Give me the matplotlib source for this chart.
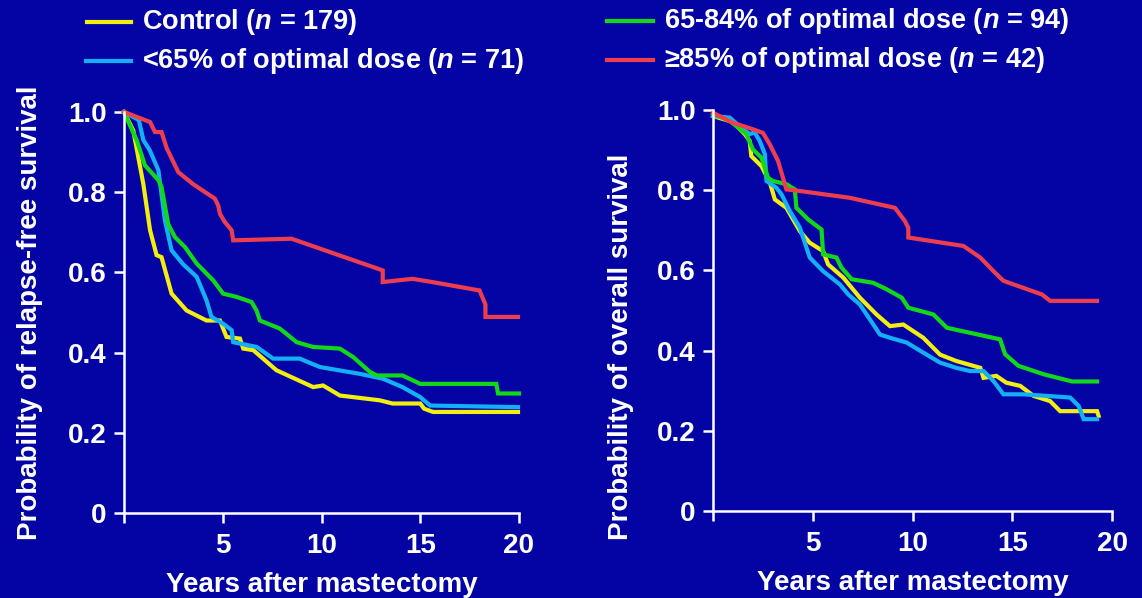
import matplotlib
matplotlib.use('Agg')
import matplotlib.pyplot as plt
from matplotlib.lines import Line2D

# data (years, probability)
rfs_control_x = [0, 0.47, 0.98, 1.32, 1.65, 1.9, 2.41, 3.17, 4.18, 4.86, 5.19, 5.87, 6.04, 6.55, 7.72, 9.58, 10.08, 10.93, 12.95, 13.6, 15.0, 15.2, 15.65, 19.95]
rfs_control_y = [1.0, 0.954, 0.82, 0.705, 0.643, 0.638, 0.547, 0.505, 0.48, 0.48, 0.439, 0.435, 0.41, 0.406, 0.356, 0.314, 0.318, 0.293, 0.281, 0.273, 0.273, 0.26, 0.252, 0.252]
rfs_low_x = [0, 0.75, 0.98, 1.3, 1.74, 2.07, 2.41, 3.0, 3.68, 4.18, 4.43, 5.02, 5.45, 5.53, 6.72, 7.55, 8.9, 9.92, 11.94, 13.1, 14.1, 15.0, 15.5, 19.95]
rfs_low_y = [1.0, 0.98, 0.93, 0.905, 0.855, 0.73, 0.655, 0.62, 0.589, 0.53, 0.489, 0.472, 0.456, 0.426, 0.414, 0.385, 0.385, 0.364, 0.347, 0.335, 0.314, 0.289, 0.268, 0.264]
rfs_mid_x = [0, 0.64, 1.06, 1.74, 1.9, 2.24, 2.58, 3.09, 3.68, 4.52, 5.02, 5.7, 6.46, 6.71, 6.88, 7.89, 8.74, 9.58, 10.93, 11.6, 12.45, 12.8, 14.1, 15.0, 18.85, 18.94, 20.0]
rfs_mid_y = [1.0, 0.93, 0.867, 0.83, 0.813, 0.72, 0.688, 0.663, 0.622, 0.58, 0.547, 0.539, 0.526, 0.505, 0.48, 0.46, 0.426, 0.414, 0.41, 0.389, 0.352, 0.343, 0.343, 0.322, 0.322, 0.298, 0.298]
rfs_high_x = [0, 1.32, 1.57, 1.9, 2.16, 2.75, 3.5, 4.6, 4.77, 4.86, 5.1, 5.45, 5.53, 8.48, 13.1, 13.1, 14.6, 15.6, 18.0, 18.3, 18.3, 19.95]
rfs_high_y = [1.0, 0.975, 0.95, 0.95, 0.91, 0.85, 0.82, 0.784, 0.767, 0.746, 0.726, 0.705, 0.68, 0.684, 0.605, 0.576, 0.584, 0.576, 0.555, 0.52, 0.489, 0.489]

os_control_x = [0, 1.0, 1.59, 1.84, 1.92, 2.43, 2.85, 3.1, 3.68, 4.35, 4.85, 5.52, 5.77, 6.53, 7.36, 8.2, 8.87, 9.54, 10.54, 11.38, 12.2, 13.4, 13.56, 14.2, 14.7, 15.4, 16.07, 16.9, 17.4, 19.25, 19.33]
os_control_y = [0.985, 0.97, 0.94, 0.923, 0.885, 0.86, 0.819, 0.777, 0.756, 0.698, 0.669, 0.648, 0.615, 0.582, 0.532, 0.49, 0.461, 0.465, 0.432, 0.39, 0.374, 0.357, 0.332, 0.337, 0.32, 0.312, 0.287, 0.274, 0.249, 0.249, 0.237]
os_low_x = [0, 0.84, 1.5, 1.84, 2.09, 2.34, 2.6, 2.68, 3.18, 3.43, 3.85, 4.35, 4.85, 5.52, 6.36, 6.78, 7.36, 7.7, 8.37, 8.87, 9.71, 10.54, 11.38, 12.2, 12.89, 13.56, 14.06, 14.56, 15.56, 17.9, 18.33, 18.58, 19.25]
os_low_y = [0.985, 0.981, 0.952, 0.94, 0.944, 0.923, 0.89, 0.823, 0.806, 0.79, 0.748, 0.707, 0.632, 0.598, 0.565, 0.54, 0.515, 0.49, 0.44, 0.432, 0.42, 0.395, 0.37, 0.357, 0.349, 0.349, 0.324, 0.291, 0.291, 0.283, 0.262, 0.229, 0.229]
os_mid_x = [0, 0.84, 1.67, 2.0, 2.43, 2.76, 3.0, 3.68, 4.1, 4.18, 4.77, 5.44, 5.52, 6.19, 6.44, 6.95, 8.03, 8.7, 9.46, 9.79, 11.05, 11.72, 14.39, 14.64, 15.31, 16.57, 18.0, 19.25]
os_mid_y = [0.99, 0.973, 0.94, 0.902, 0.881, 0.831, 0.823, 0.815, 0.802, 0.756, 0.727, 0.702, 0.64, 0.632, 0.607, 0.578, 0.569, 0.553, 0.532, 0.507, 0.49, 0.457, 0.428, 0.391, 0.362, 0.341, 0.323, 0.323]
os_high_x = [0, 1.0, 2.0, 2.5, 2.85, 3.26, 3.6, 3.68, 4.35, 6.86, 9.12, 9.62, 9.79, 9.79, 12.55, 13.4, 14.06, 14.56, 16.49, 16.9, 19.25]
os_high_y = [0.993, 0.968, 0.952, 0.943, 0.914, 0.873, 0.815, 0.802, 0.798, 0.781, 0.756, 0.723, 0.706, 0.682, 0.661, 0.632, 0.598, 0.574, 0.54, 0.524, 0.524]

labels = ['Control ($n$ = 179)', '<65% of optimal dose ($n$ = 71)',
          '65-84% of optimal dose ($n$ = 94)', '≥85% of optimal dose ($n$ = 42)']
colors = ['#F2EE10', '#14B0F5', '#12D818', '#EE3E4E']
x_ticks = [0, 5, 10, 15, 20]
x_ticklabels = ['', '5', '10', '15', '20']
y_ticks = [0, 0.2, 0.4, 0.6, 0.8, 1.0]
y_ticklabels = ['0', '0.2', '0.4', '0.6', '0.8', '1.0']

bg = '#0404A4'
plt.rcParams['font.family'] = ['Liberation Sans', 'DejaVu Sans']
plt.rcParams['font.weight'] = 'bold'
plt.rcParams['mathtext.fontset'] = 'custom'
plt.rcParams['mathtext.it'] = 'Liberation Sans:italic:bold'
plt.rcParams['mathtext.rm'] = 'Liberation Sans:bold'

fig = plt.figure(figsize=(11.42, 5.98), dpi=100, facecolor=bg)
W, H = 1142, 598


def make_ax(x0, x1, ytop, ybot, ylabel):
    ax = fig.add_axes([x0 / W, 1 - ybot / H, (x1 - x0) / W, (ybot - ytop) / H])
    ax.set_facecolor(bg)
    ax.set_xlim(0, 20)
    ax.set_ylim(0, 1)
    for s in ['top', 'right']:
        ax.spines[s].set_visible(False)
    for s in ['left', 'bottom']:
        ax.spines[s].set_color('white')
        ax.spines[s].set_linewidth(1.8)
    ax.set_xticks(x_ticks)
    ax.set_xticklabels(x_ticklabels)
    ax.set_yticks(y_ticks)
    ax.set_yticklabels(y_ticklabels)
    ax.tick_params(colors='white', labelsize=20, width=1.8, length=7.5, pad=5)
    ax.tick_params(axis='x', pad=7)
    ax.set_xlabel('Years after mastectomy', color='white', fontsize=20, fontweight='bold')
    ax.xaxis.set_label_coords(0.5, -0.18)
    ax.xaxis.label.set_va('center')
    ax.set_ylabel(ylabel, color='white', fontsize=20, fontweight='bold')
    ax.yaxis.label.set_va('center')
    return ax


ax1 = make_ax(124, 519, 112, 513, 'Probability of relapse-free survival')
ax1.yaxis.set_label_coords(-0.238, 0.5)
ax2 = make_ax(713, 1112, 110, 511, 'Probability of overall survival')
ax2.yaxis.set_label_coords(-0.231, 0.41)

left_series = [(rfs_control_x, rfs_control_y), (rfs_low_x, rfs_low_y),
               (rfs_mid_x, rfs_mid_y), (rfs_high_x, rfs_high_y)]
right_series = [(os_control_x, os_control_y), (os_low_x, os_low_y),
                (os_mid_x, os_mid_y), (os_high_x, os_high_y)]
for ax, series in [(ax1, left_series), (ax2, right_series)]:
    for (xs, ys), c in zip(series, colors):
        ax.plot(xs, ys, color=c, lw=3, clip_on=False, solid_joinstyle='miter')

# legends at the top
legend_pos = [(87, 131, 22), (86, 131, 61), (607, 653, 21), (607, 653, 60)]
for (lx0, lx1, ly), lab, c in zip(legend_pos, labels, colors):
    fig.add_artist(Line2D([lx0 / W, lx1 / W], [1 - ly / H, 1 - ly / H],
                          transform=fig.transFigure, color=c, lw=3))
    fig.text((lx1 + 11) / W, 1 - ly / H, lab, color='white', fontsize=19.5,
             fontweight='bold', va='center', ha='left')

fig.savefig('out.png', dpi=100, facecolor=bg)
